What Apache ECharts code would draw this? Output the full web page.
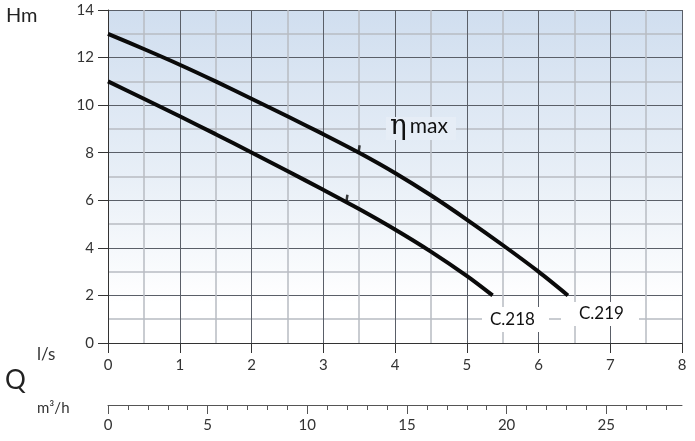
<!DOCTYPE html>
<html><head><meta charset="utf-8">
<script src="https://cdn.jsdelivr.net/npm/echarts@6/dist/echarts.min.js"></script>
<style>html,body{margin:0;padding:0;background:#fff}#c{width:695px;height:441px}</style>
</head><body><div id="c"></div>
<script>
// C.218 pump curve (Q in l/s, H in m)
const flowC218 = [0, 0.5, 1, 1.5, 2, 2.5, 3, 3.5, 4, 4.5, 5, 5.36];
const headC218 = [11, 10.27, 9.53, 8.78, 8.01, 7.23, 6.44, 5.63, 4.77, 3.84, 2.82, 2.0];
// C.219 pump curve
const flowC219 = [0, 0.5, 1, 1.5, 2, 2.5, 3, 3.5, 4, 4.5, 5, 5.5, 6, 6.41];
const headC219 = [13, 12.36, 11.7, 11.0, 10.27, 9.53, 8.78, 8.0, 7.15, 6.21, 5.19, 4.12, 3.0, 2.0];
// max efficiency points
const etaFlow = [3.33, 3.5];
const etaHead = [5.92, 8.0];
// axes
const lsTicks = [0, 1, 2, 3, 4, 5, 6, 7, 8];
const hmTicks = [0, 2, 4, 6, 8, 10, 12, 14];
const m3hMajor = [0, 5, 10, 15, 20, 25];
const m3hMinor = [1, 2, 3, 4, 6, 7, 8, 9, 11, 12, 13, 14, 16, 17, 18, 19, 21, 22, 23, 24, 26, 27, 28];
const curveNames = ['C.218', 'C.219'];

const FONT = 'Lato, "DejaVu Sans", sans-serif';
const zip = (a, b) => a.map((v, i) => [v, b[i]]);

const chart = echarts.init(document.getElementById('c'), null, {renderer: 'canvas'});
const lsMax = lsTicks[lsTicks.length - 1];
const m3hMax = lsMax * 3.6;

chart.setOption({
  animation: false,
  grid: {
    left: 108, right: 13, top: 10, bottom: 98,
    show: true, borderWidth: 0,
    backgroundColor: new echarts.graphic.LinearGradient(0, 0, 0, 1, [
      {offset: 0, color: '#d0deef'},
      {offset: 0.5, color: '#e8eff7'},
      {offset: 0.88, color: '#ffffff'},
      {offset: 1, color: '#ffffff'}
    ])
  },
  xAxis: [
    {
      type: 'value', min: 0, max: lsMax, interval: 1,
      axisLine: {show: true, lineStyle: {color: '#333', width: 1}},
      axisTick: {show: true, length: 10, lineStyle: {color: '#333'}},
      axisLabel: {fontFamily: FONT, fontSize: 15, color: '#333', margin: 15},
      splitLine: {show: true, lineStyle: {color: '#5a5f68', width: 1}},
      minorTick: {show: false, splitNumber: 2},
      minorSplitLine: {show: true, lineStyle: {color: '#b8bcc2', width: 1.5}}
    },
    {
      type: 'value', min: 0, max: m3hMax, position: 'bottom', offset: 62,
      axisLine: {show: true, onZero: false, lineStyle: {color: '#555', width: 1}},
      axisTick: {show: true, length: 5, customValues: m3hMinor, lineStyle: {color: '#555'}},
      axisLabel: {show: false},
      splitLine: {show: false}
    },
    {
      type: 'value', min: 0, max: m3hMax, position: 'bottom', offset: 62,
      axisLine: {show: false, onZero: false},
      axisTick: {show: true, length: 9, customValues: m3hMajor, lineStyle: {color: '#555'}},
      axisLabel: {show: true, customValues: m3hMajor, fontFamily: FONT, fontSize: 15, color: '#333', margin: 13},
      splitLine: {show: false}
    }
  ],
  yAxis: {
    type: 'value', min: 0, max: hmTicks[hmTicks.length - 1], interval: 2,
    axisLine: {show: true, onZero: false, lineStyle: {color: '#333', width: 1}},
    axisTick: {show: true, length: 10, lineStyle: {color: '#333'}},
    axisLabel: {fontFamily: FONT, fontSize: 15, color: '#333', margin: 14},
    splitLine: {show: true, lineStyle: {color: '#5a5f68', width: 1}},
    minorTick: {show: false, splitNumber: 2},
    minorSplitLine: {show: true, lineStyle: {color: '#b8bcc2', width: 1.5}}
  },
  series: [
    {
      name: curveNames[0], type: 'line', data: zip(flowC218, headC218),
      smooth: 0.3, showSymbol: false, lineStyle: {color: '#0a0a0a', width: 4, cap: 'butt'}
    },
    {
      name: curveNames[1], type: 'line', data: zip(flowC219, headC219),
      smooth: 0.3, showSymbol: false, lineStyle: {color: '#0a0a0a', width: 4, cap: 'butt'}
    },
    {
      type: 'scatter', data: zip(etaFlow, etaHead),
      symbol: 'rect', symbolSize: [2.5, 7], symbolOffset: [0, -4], symbolRotate: -8,
      itemStyle: {color: '#0a0a0a'}, z: 5
    }
  ],
  graphic: [
    {type: 'text', left: 6, top: 6, style: {text: 'Hm', font: '20px ' + FONT, fill: '#222'}},
    {type: 'text', left: 37, top: 346, style: {text: 'l/s', font: '17px ' + FONT, fill: '#333'}},
    {type: 'text', left: 5, top: 368, style: {text: 'Q', font: '26px ' + FONT, fill: '#222'}},
    {type: 'text', left: 37, top: 401, style: {text: 'm³/h', font: '15px ' + FONT, fill: '#333'}},
    {type: 'rect', shape: {x: 386, y: 117, width: 70, height: 23}, style: {fill: '#e6edf6'}, z: 10},
    {type: 'text', x: 390, y: 113, z: 11, style: {
      rich: {
        e: {fontFamily: '"DejaVu Serif", serif', fontSize: 28, fill: '#111', verticalAlign: 'middle', lineHeight: 28},
        m: {fontFamily: FONT, fontSize: 21, fill: '#111', padding: [0, 0, 2, 3], lineHeight: 28}
      },
      text: '{e|η}{m|max}'
    }},
    {type: 'rect', shape: {x: 482, y: 307, width: 67, height: 25}, style: {fill: '#ffffff'}, z: 10},
    {type: 'text', x: 490, y: 311, z: 11, style: {text: curveNames[0], font: '17px ' + FONT, fill: '#111'}},
    {type: 'rect', shape: {x: 561, y: 302, width: 78, height: 24}, style: {fill: '#ffffff'}, z: 10},
    {type: 'text', x: 579, y: 305, z: 11, style: {text: curveNames[1], font: '17px ' + FONT, fill: '#111'}}
  ]
});
</script>
</body></html>
